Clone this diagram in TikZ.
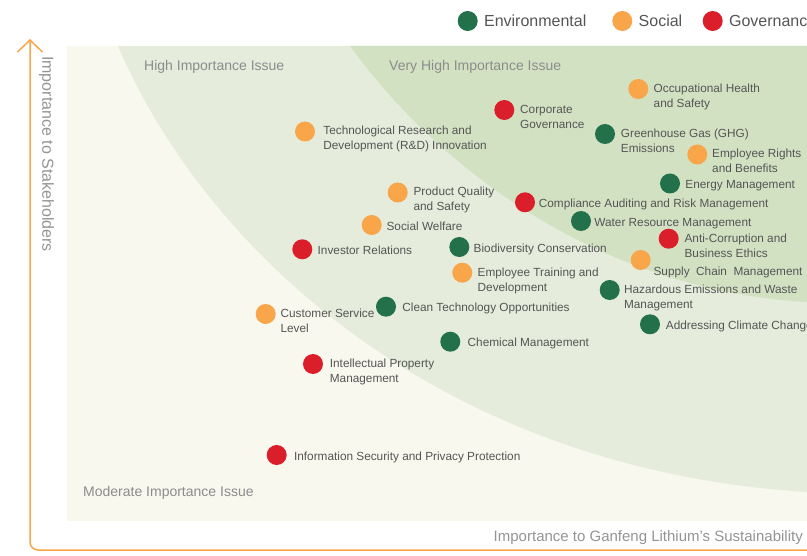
\documentclass[tikz,border=0pt]{standalone}
\usepackage{fontspec}
\setmainfont{Liberation Sans}
\usetikzlibrary{arrows.meta}
\definecolor{cream}{HTML}{F8F8EE}
\definecolor{zonehigh}{HTML}{E5ECDB}
\definecolor{zonevery}{HTML}{D3E1C3}
\definecolor{env}{HTML}{23714B}
\definecolor{soc}{HTML}{F9A54A}
\definecolor{gov}{HTML}{DA1F2B}
\definecolor{axisc}{HTML}{F9A54A}
\definecolor{ink}{HTML}{555555}
\begin{document}
\begin{tikzpicture}[x=1pt,y=-1pt,
	dot/.style={circle,fill=#1,minimum size=20pt,inner sep=0pt},
	lbl/.style={text=ink,inner sep=0pt,align=left,anchor=north west,
		font=\fontsize{11.8}{15}\selectfont,execute at begin node=\strut},
	zone/.style={text=black!45,inner sep=0pt,anchor=west,font=\fontsize{14}{16}\selectfont},
	axlbl/.style={text=black!42,inner sep=0pt,font=\fontsize{15}{17}\selectfont},
	legend/.style={text=ink,inner sep=0pt,anchor=west,font=\fontsize{16}{18}\selectfont}]
	\clip (0,0) rectangle (807,556);
	\fill[cream] (67,46) rectangle (807,521);
	\fill[zonehigh] (118,46) .. controls (210,260) and (450,470) .. (807,492)
		-- (807,46) -- cycle;
	\fill[zonevery] (350,46) .. controls (440,170) and (600,290) .. (807,302)
		-- (807,46) -- cycle;
	\coordinate (o) at (30,550);
	\coordinate (ytop) at (30,39);
	\coordinate (xend) at (807,550);
	\draw[axisc,line width=1.5pt,rounded corners=8pt,
		-{Straight Barb[length=12pt,width=25pt]}] (xend) -- (o) -- (ytop);
	\node[axlbl,rotate=-90,font=\fontsize{16}{18}\selectfont] (ylab) at (46.5,154) {Importance to Stakeholders};
	\node[axlbl,anchor=east] (xlab) at (803,537.5) {Importance to Ganfeng Lithium's Sustainability};
	\node[zone] (high) at (144,66.5) {High Importance Issue};
	\node[zone] (very) at (389,66.5) {Very High Importance Issue};
	\node[zone] (moderate) at (83,493) {Moderate Importance Issue};
	\foreach \n/\x/\c/\t in {lenv/467.7/env/Environmental,lsoc/622.3/soc/Social,
		lgov/712.7/gov/Governance} {
		\node[dot=\c] (\n) at (\x,21) {};
		\node[legend] (\n t) at ([xshift=6pt]\n.east) {\t};
	}
	\foreach \n/\x/\y/\c/\g/\t in {
		ohs/638.3/89/soc/5/Occupational Health\\and Safety,
		corp/504.3/110/gov/5.5/Corporate\\Governance,
		rnd/305/131.5/soc/8/Technological Research and\\Development (R\&D) Innovation,
		ghg/605/134/env/5.5/Greenhouse Gas (GHG)\\Emissions,
		rights/697.3/154.5/soc/4.5/Employee Rights\\and Benefits,
		energy/670/183.5/env/5/Energy Management,
		quality/397.7/192.5/soc/5.5/Product Quality\\and Safety,
		audit/525/202.3/gov/3.5/Compliance Auditing and Risk Management,
		welfare/371.7/225/soc/4.5/Social Welfare,
		water/581/221/env/3/Water Resource Management,
		investor/302.3/249.3/gov/5/Investor Relations,
		bio/459.3/247/env/4/Biodiversity Conservation,
		ethics/668.7/238.7/gov/5.5/Anti-Corruption and\\Business Ethics,
		training/462.3/272.7/soc/5/Employee Training and\\Development,
		waste/609.7/290/env/4/Hazardous Emissions and Waste\\Management,
		cleantech/386/306.7/env/6/Clean Technology Opportunities,
		service/265.7/314/soc/4.5/Customer Service\\Level,
		climate/650/324.3/env/5.5/Addressing Climate Change,
		chem/450.3/341.7/env/7/Chemical Management,
		ip/313/364/gov/6.5/Intellectual Property\\Management,
		infosec/276.7/455/gov/7/Information Security and Privacy Protection} {
		\node[dot=\c] (\n) at (\x,\y) {};
		\node[lbl] (\n t) at ([xshift=\g pt,yshift=5.4pt]\n.east) {\t};
	}
	\node[dot=soc] (supply) at (640.7,260) {};
	\node[lbl] (supply t) at ([xshift=2.5pt,yshift=-5.2pt]supply.east) {Supply\ \ Chain\ \ Management};
	\end{tikzpicture}
\end{document}
